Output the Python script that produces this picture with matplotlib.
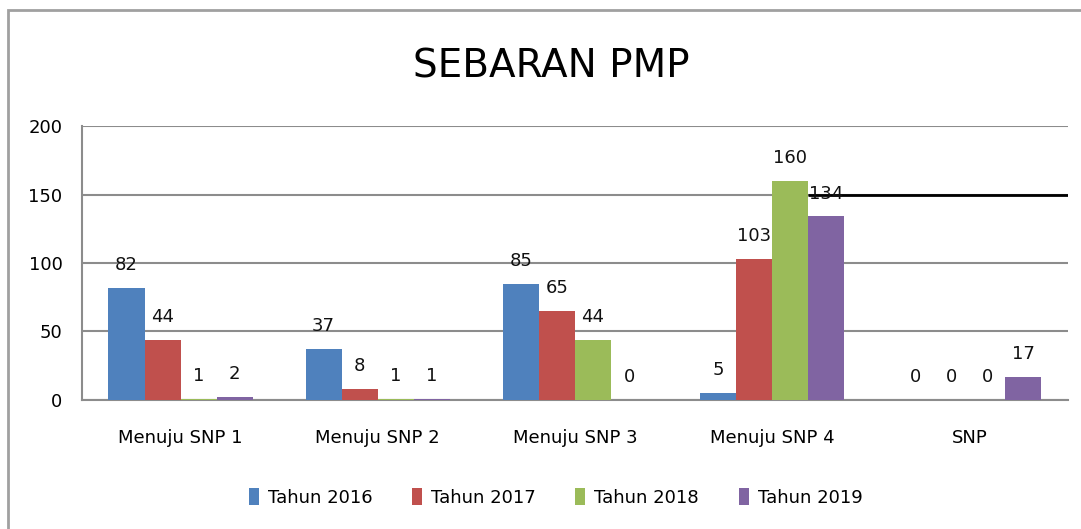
import matplotlib.pyplot as plt
import numpy as np
from matplotlib.patches import Rectangle

categories = ["Menuju SNP 1", "Menuju SNP 2", "Menuju SNP 3", "Menuju SNP 4", "SNP"]
series_names = ["Tahun 2016", "Tahun 2017", "Tahun 2018", "Tahun 2019"]
tahun_2016 = [82, 37, 85, 5, 0]
tahun_2017 = [44, 8, 65, 103, 0]
tahun_2018 = [1, 1, 44, 160, 0]
tahun_2019 = [2, 1, 0, 134, 17]
colors = ["#4F81BD", "#C0504D", "#9BBB59", "#8064A2"]

fig = plt.figure(figsize=[10.81, 5.29], dpi=100)
ax = fig.add_axes([0.0759, 0.2439, 0.912, 0.5179])

x = np.arange(len(categories))
width = 0.183
all_series = [tahun_2016, tahun_2017, tahun_2018, tahun_2019]
for i, (name, vals) in enumerate(zip(series_names, all_series)):
    pos = x + (i - 1.5) * width
    ax.bar(pos, vals, width, color=colors[i], label=name, zorder=3)
    for p, v in zip(pos, vals):
        ax.annotate(str(v), (p, v), xytext=(0, 10), textcoords="offset points",
                    ha="center", va="bottom", fontsize=13, color="#111111", zorder=4)

ax.set_xlim(-0.5, 4.5)
ax.set_ylim(0, 200)
ax.set_yticks([0, 50, 100, 150, 200])
ax.set_xticks(x)
ax.set_xticklabels(categories)
ax.tick_params(axis="y", length=0, pad=14, labelsize=13)
ax.tick_params(axis="x", length=0, pad=21, labelsize=13)
ax.grid(axis="y", color="#8c8c8c", linewidth=1.5, zorder=0)
for s in ["top", "right"]:
    ax.spines[s].set_visible(False)
for s in ["left", "bottom"]:
    ax.spines[s].set_color("#8c8c8c")
    ax.spines[s].set_linewidth(1.5)

# stray dark segment on the 150 gridline
ax.plot([3.18, 4.5], [150, 150], color="black", linewidth=2, zorder=2,
        solid_capstyle="butt")

fig.text(0.51, 0.875, "SEBARAN PMP", ha="center", va="center", fontsize=28)

fig.legend(loc="center", bbox_to_anchor=(0.514, 0.06), ncol=4, frameon=False,
           fontsize=13, handlelength=0.55, handleheight=1.1, handletextpad=0.5,
           columnspacing=2.2)

# outer chart frame
fig.patches.append(Rectangle((8 / 1081, -0.2), 1.2, 1.2 - 10 / 529, transform=fig.transFigure,
                             fill=False, edgecolor="#a0a0a0", linewidth=2))

fig.savefig("out.png", dpi=100)
